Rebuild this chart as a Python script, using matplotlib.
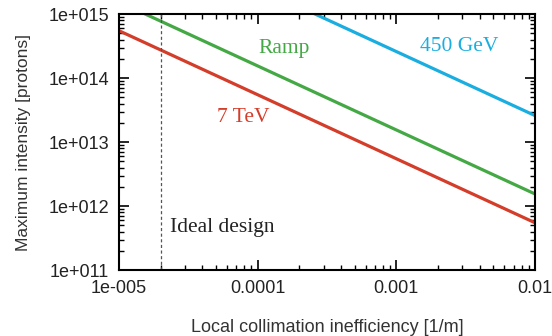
import matplotlib
matplotlib.use("Agg")
from matplotlib import pyplot as plt
from matplotlib.ticker import LogLocator, NullFormatter

# values (end points of each line)
eta_450 = [2.6e-4, 1e-2]
int_450 = [1e15, 2.6e13]
eta_ramp = [1.55e-5, 1e-2]
int_ramp = [1e15, 1.55e12]
eta_7tev = [1e-5, 1e-2]
int_7tev = [5.5e14, 5.5e11]
ideal_eta = 2e-5

x_ticks = [1e-5, 1e-4, 1e-3, 1e-2]
x_labels = ["1e-005", "0.0001", "0.001", "0.01"]
y_ticks = [1e11, 1e12, 1e13, 1e14, 1e15]
y_labels = ["1e+011", "1e+012", "1e+013", "1e+014", "1e+015"]

plt.rcParams['font.family'] = ['Liberation Sans', 'DejaVu Sans']

fig = plt.figure(figsize=(5.52, 3.36), dpi=100)
ax = fig.add_axes([0.2156, 0.196, 0.7536, 0.762])

ax.plot(eta_450, int_450, color="#1aaee0", lw=2.3)
ax.plot(eta_ramp, int_ramp, color="#44a845", lw=2.3)
ax.plot(eta_7tev, int_7tev, color="#d43d2a", lw=2.3)
ax.axvline(ideal_eta, color="#555555", lw=0.9, ls=(0, (2.5, 2)))

ax.set_xscale("log")
ax.set_yscale("log")
ax.set_xlim(1e-5, 1e-2)
ax.set_ylim(1e11, 1e15)

ax.set_xticks(x_ticks)
ax.set_xticklabels(x_labels)
ax.set_yticks(y_ticks)
ax.set_yticklabels(y_labels)
ax.xaxis.set_minor_locator(LogLocator(base=10, subs=range(2, 10), numticks=20))
ax.yaxis.set_minor_locator(LogLocator(base=10, subs=range(2, 10), numticks=20))
ax.xaxis.set_minor_formatter(NullFormatter())
ax.yaxis.set_minor_formatter(NullFormatter())

ax.tick_params(which="both", direction="in", top=True, right=True, labelsize=13, colors="black")
ax.tick_params(which="major", length=7, width=1.2, pad=7)
ax.tick_params(which="minor", length=3.5, width=1)
ax.tick_params(labelcolor="#222222")
for s in ax.spines.values():
    s.set_linewidth(1.5)

ax.set_xlabel("Local collimation inefficiency [1/m]", fontsize=13, labelpad=16, color="#333333")
ax.set_ylabel("Maximum intensity [protons]", fontsize=12.5, labelpad=13, color="#333333")

serif = ["Liberation Serif", "DejaVu Serif"]
ax.text(1.55e-4, 2.94e14, "Ramp", color="#44a845", fontsize=15.5, family=serif, ha="center", va="center")
ax.text(2.83e-3, 3.16e14, "450 GeV", color="#1aaee0", fontsize=15.5, family=serif, ha="center", va="center")
ax.text(7.83e-5, 2.46e13, "7 TeV", color="#d43d2a", fontsize=15.5, family=serif, ha="center", va="center")
ax.text(2.33e-5, 4.7e11, "Ideal design", color="#222222", fontsize=15.5, family=serif, ha="left", va="center")

fig.savefig("out.png", dpi=100)
